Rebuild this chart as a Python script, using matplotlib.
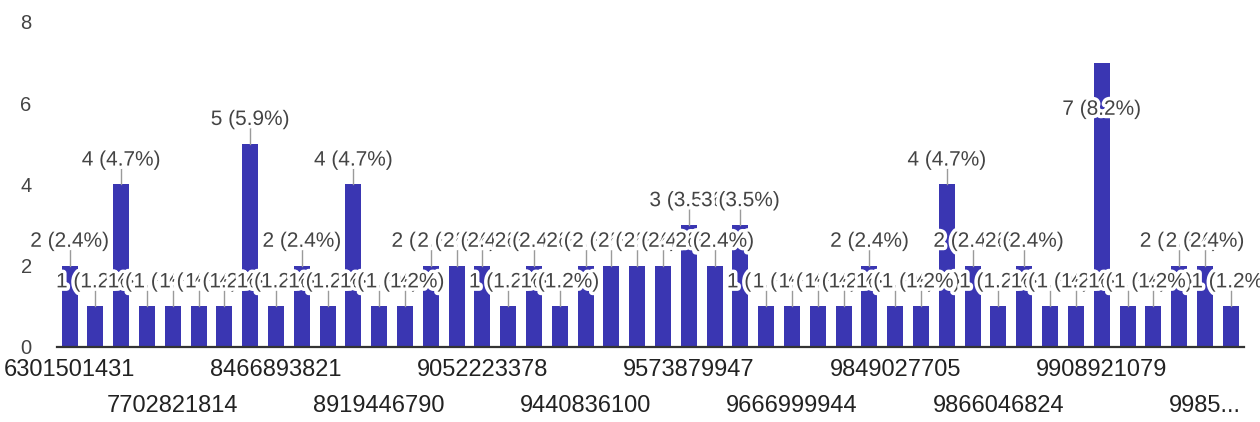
import matplotlib
matplotlib.use("Agg")
import matplotlib.pyplot as plt
import matplotlib.patheffects as pe
import numpy as np

plt.rcParams['font.family'] = ['Liberation Sans', 'DejaVu Sans']

# Responses per phone number (46 distinct answers, 85 responses in total)
counts = [2, 1, 4, 1, 1, 1, 1, 5, 1, 2,
          1, 4, 1, 1, 2, 2, 2, 1, 2, 1,
          2, 2, 2, 2, 3, 2, 3, 1, 1, 1,
          1, 2, 1, 1, 4, 2, 1, 2, 1, 1,
          7, 1, 1, 2, 2, 1]

# Every fourth category is labelled on the axis
tick_labels = ["6301501431", "7702821814", "8466893821", "8919446790",
               "9052223378", "9440836100", "9573879947", "9666999944",
               "9849027705", "9866046824", "9908921079", "9985..."]

total = sum(counts)
bar_color = "#3a36b2"
text_color = "#444444"

fig = plt.figure(figsize=(12.6, 4.22), dpi=100)
fig.patch.set_facecolor("white")
ax = fig.add_axes([0.045, 0.178, 0.942, 0.77])

x = np.arange(len(counts))
ax.bar(x, counts, width=0.62, color=bar_color, zorder=2)

ax.set_xlim(-0.5, len(counts) - 0.5)
ax.set_ylim(0, 8)
ax.set_yticks([0, 2, 4, 6, 8])
ax.tick_params(axis='y', length=0, pad=18, labelsize=14.5, labelcolor=text_color)

tick_pos = x[::4]
ax.set_xticks(tick_pos)
ax.set_xticklabels(tick_labels, fontsize=17, color="#222222")
ax.tick_params(axis='x', length=0, pad=9)
for i, t in enumerate(ax.xaxis.get_major_ticks()):
    if i % 2 == 1:
        t.set_pad(35)

for s in ("top", "right", "left"):
    ax.spines[s].set_visible(False)
ax.spines["bottom"].set_color("#333333")
ax.spines["bottom"].set_linewidth(1.6)
ax.spines["bottom"].set_zorder(3)

# Value labels with leader lines, drawn left to right so each halo
# covers the one before it
halo = [pe.withStroke(linewidth=5, foreground="white")]
for i, v in enumerate(counts):
    pct = 100.0 * v / total
    label = f"{v} ({pct:.1f}%)"
    if v == max(counts):
        y_text = 5.85
    else:
        y_text = v + 0.6
        ax.plot([i, i], [v, y_text - 0.2], color="#9a9a9a", lw=1.0,
                zorder=3 + 2 * i)
    ax.text(i, y_text, label, ha="center", va="center", fontsize=15,
            color=text_color, path_effects=halo, zorder=4 + 2 * i)

fig.savefig("out.png", dpi=100)
